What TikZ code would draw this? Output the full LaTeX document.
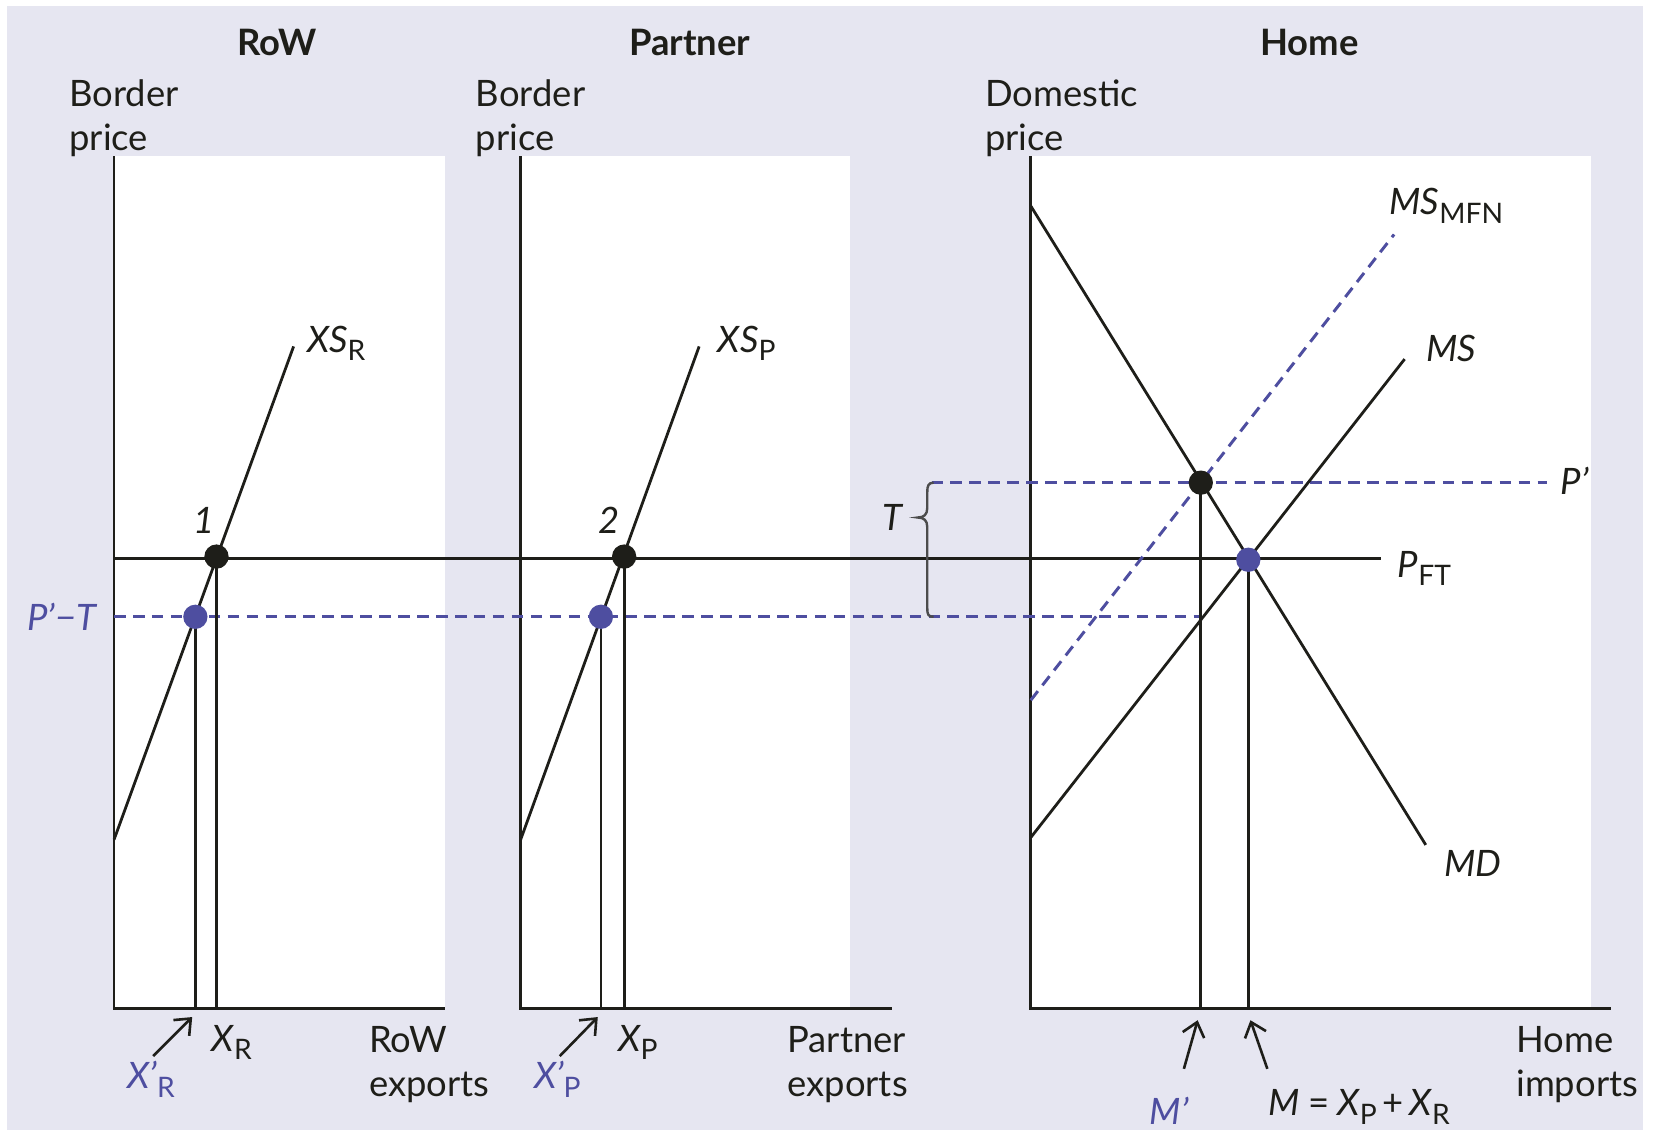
\documentclass[tikz,border=0pt]{standalone}
\usepackage{fontspec}
\setmainfont{Lato}
\usetikzlibrary{arrows.meta}
\definecolor{bgl}{RGB}{230,230,241}
\definecolor{pblue}{RGB}{78,78,160}
\definecolor{ink}{RGB}{30,30,25}
\newcommand{\sbs}[1]{\raisebox{-0.45ex}{\upshape\fontsize{7.6}{9}\selectfont #1}}
\begin{document}
\begin{tikzpicture}[x=0.01cm,y=-0.01cm,
  axisl/.style={line width=0.75pt, ink},
  curvel/.style={line width=0.75pt, ink},
  bdash/.style={pblue, line width=0.8pt, dash pattern=on 3.1pt off 2pt},
  lbl/.style={font=\fontsize{9.8}{12}\selectfont\itshape, inner sep=0pt, anchor=west, text=ink},
  blbl/.style={lbl, text=pblue},
  txt/.style={font=\fontsize{9.8}{11.7}\selectfont, inner sep=0pt, anchor=west, align=left, text=ink},
  ttl/.style={font=\fontsize{9.8}{12}\selectfont\bfseries, inner sep=0pt, text=ink},
  kdot/.style={circle, fill=ink, inner sep=0pt, minimum size=0.23cm},
  bdot/.style={circle, fill=pblue, inner sep=0pt, minimum size=0.23cm},
  arr/.style={line width=0.7pt, ink, -{Straight Barb[length=3.6pt,width=6pt]}}
]
\useasboundingbox (0,0) rectangle (1568,1072);
\fill[white] (0,0) rectangle (1568,1072);
\fill[bgl] (7,6) rectangle (1556,1070);
% white panels
\fill[white] (108,148) rectangle (421,955);
\fill[white] (493,148) rectangle (805,955);
\fill[white] (976,148) rectangle (1506,955);

% titles
\node[ttl] (tR) at (262,40) {RoW};
\node[ttl] (tP) at (653,40) {Partner};
\node[ttl] (tH) at (1240,40) {Home};
\node[txt] (yR) at (65,112) {Border\\price};
\node[txt] (yP) at (450,112) {Border\\price};
\node[txt] (yH) at (932,112) {Domestic\\price};

% axes
\coordinate (oR) at (108,955);
\coordinate (oP) at (493,955);
\coordinate (oH) at (976,955);
\draw[axisl] (108,148) -- (oR) -- (421,955);
\draw[axisl] (493,148) -- (oP) -- (845,955);
\draw[axisl] (976,148) -- (oH) -- (1525,955);

% P_FT line
\coordinate (pftL) at (108,529);
\coordinate (pftR) at (1308,529);
\draw[curvel] (pftL) -- (pftR);
\node[lbl] (pft) at (1323,538) {P\sbs{FT}};

% P'-T dashed line
\coordinate (ptL) at (108,584);
\coordinate (ptR) at (1138,584);
\draw[bdash] (ptL) -- (ptR);
\node[blbl, anchor=east] (ptlab) at (92,584) {P’−T};

% P' dashed line
\coordinate (ppL) at (882,457);
\coordinate (ppR) at (1465,457);
\draw[bdash] (ppL) -- (ppR);
\node[lbl] (pplab) at (1477,455) {P’};

% brace T
\draw[line width=0.65pt, black!70] (884,457) .. controls (879,457) and (878,460) .. (878,466) -- (878,481) .. controls (878,487) and (875,490) .. (869,490) .. controls (875,490) and (878,493) .. (878,499) -- (878,576) .. controls (878,582) and (879,584) .. (884,584);
\node[lbl, anchor=center] (Tlab) at (845,490) {T};

% RoW supply
\coordinate (xsR0) at (108,795);
\coordinate (xsR1) at (278,328);
\draw[curvel] (xsR0) -- (xsR1);
\node[lbl] (xsRl) at (290,325) {XS\sbs{R}};
\node[lbl, anchor=center] (n1) at (193,493) {1};
\coordinate (xR) at (205,955);
\coordinate (xRp) at (185,955);
\draw[curvel] (205,529) -- (xR);
\draw[curvel] (185,584) -- (xRp);
\node[kdot] (d1) at (205,527) {};
\node[bdot] (b1) at (185,584) {};

% Partner supply
\coordinate (xsP0) at (493,795);
\coordinate (xsP1) at (662,328);
\draw[curvel] (xsP0) -- (xsP1);
\node[lbl] (xsPl) at (679,325) {XS\sbs{P}};
\node[lbl, anchor=center] (n2) at (577,493) {2};
\coordinate (xP) at (591,955);
\coordinate (xPp) at (569,955);
\draw[curvel] (591,529) -- (xP);
\draw[curvel] (569,584) -- (xPp);
\node[kdot] (d2) at (591,527) {};
\node[bdot] (b2) at (569,584) {};

% Home
\coordinate (md0) at (976,195);
\coordinate (md1) at (1350,800);
\draw[curvel] (md0) -- (md1);
\node[lbl] (mdl) at (1367,818) {MD};
\coordinate (ms0) at (976,793);
\coordinate (ms1) at (1330,340);
\draw[curvel] (ms0) -- (ms1);
\node[lbl] (msl) at (1350,330) {MS};
\coordinate (mf0) at (976,663);
\coordinate (mf1) at (1320,222);
\draw[bdash] (mf0) -- (mf1);
\node[lbl] (mfl) at (1315,195) {MS\sbs{MFN}};
\coordinate (mp) at (1137,955);
\coordinate (mm) at (1182,955);
\draw[curvel] (1137,457) -- (mp);
\draw[curvel] (1182,530) -- (mm);
\node[kdot] (d3) at (1137,457) {};
\node[bdot] (b3) at (1182,530) {};

% bottom labels
\coordinate (aR) at (145,1000);
\draw[arr] (aR) -- (182,963);
\node[blbl] (xRpl) at (120,1022) {X’\sbs{R}};
\node[lbl] (xRl) at (200,987) {X\sbs{R}};
\node[txt] (rowex) at (349,1008) {RoW\\exports};

\coordinate (aP) at (530,1000);
\draw[arr] (aP) -- (566,963);
\node[blbl] (xPpl) at (505,1022) {X’\sbs{P}};
\node[lbl] (xPl) at (585,987) {X\sbs{P}};
\node[txt] (parex) at (745,1008) {Partner\\exports};

\coordinate (aM1) at (1121,1012);
\draw[arr] (aM1) -- (1134,966);
\coordinate (aM2) at (1200,1012);
\draw[arr] (aM2) -- (1184,966);
\node[blbl] (mpl) at (1088,1052) {M’};
\node[lbl] (mml) at (1200,1048) {M {\upshape =} X\sbs{P}\,{\upshape +}\,X\sbs{R}};
\node[txt] (homim) at (1435,1008) {Home\\imports};
\end{tikzpicture}
\end{document}
